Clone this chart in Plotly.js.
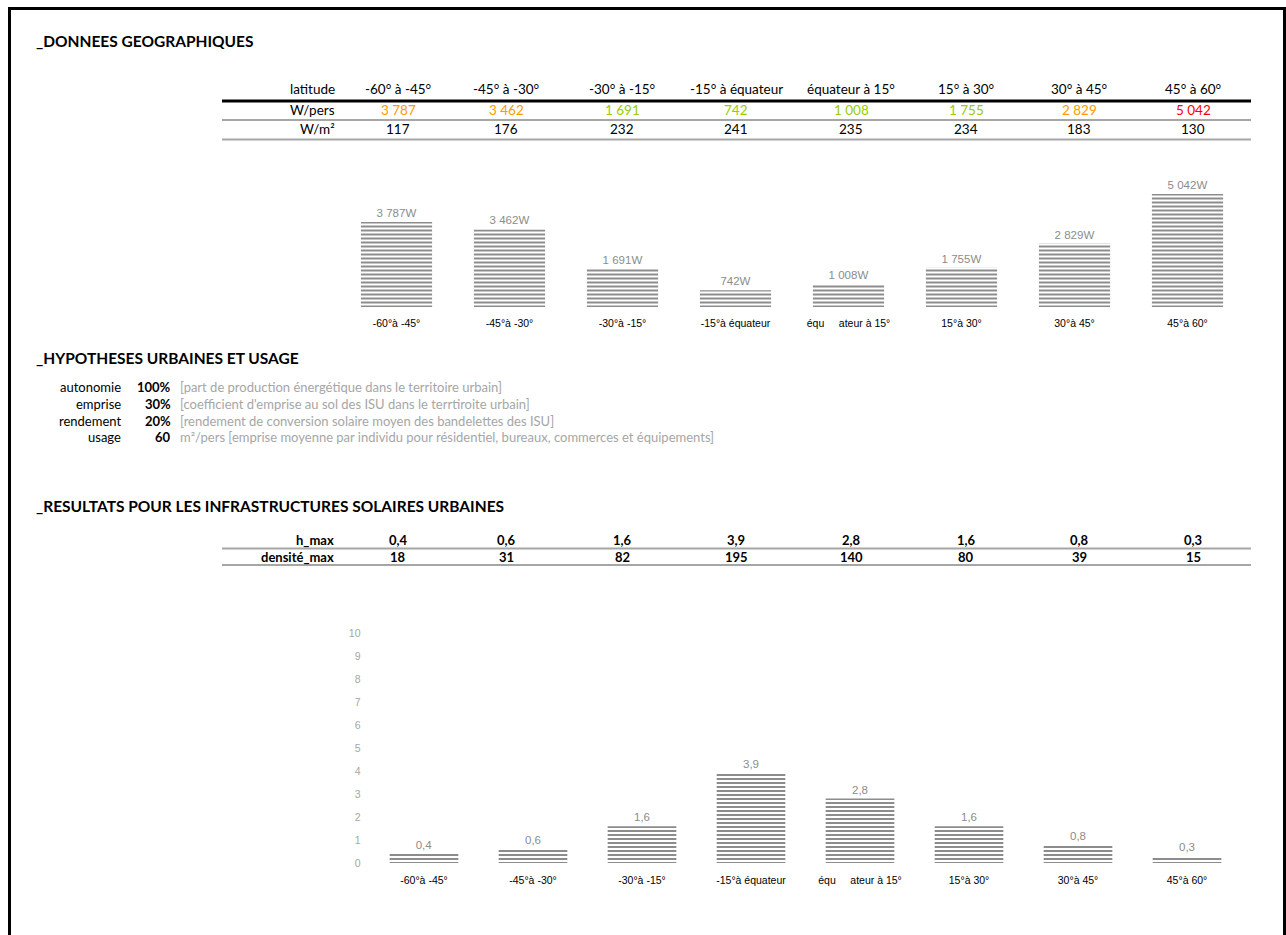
<!DOCTYPE html>
<html>
<head>
<meta charset="utf-8">
<script src="https://cdn.plot.ly/plotly-3.0.1.min.js"></script>
<style>
  html, body { margin: 0; padding: 0; background: #fff; }
  #chart { width: 1286px; height: 935px; }
</style>
</head>
<body>
<div id="chart"></div>
<script>
// ---------- DATA ----------
const latitudes = ['-60° à -45°', '-45° à -30°', '-30° à -15°', '-15° à équateur', 'équateur à 15°', '15° à 30°', '30° à 45°', '45° à 60°'];
const chartLabels = ['-60°à -45°', '-45°à -30°', '-30°à -15°', '-15°à équateur', 'équ\u00a0\u00a0\u00a0\u00a0\u00a0ateur à 15°', '15°à 30°', '30°à 45°', '45°à 60°'];
const wPers = [3787, 3462, 1691, 742, 1008, 1755, 2829, 5042];
const wPersLevel = ['orange', 'orange', 'green', 'green', 'green', 'green', 'orange', 'red'];
const wM2 = [117, 176, 232, 241, 235, 234, 183, 130];
const hMax = [0.4, 0.6, 1.6, 3.9, 2.8, 1.6, 0.8, 0.3];
const densiteMax = [18, 31, 82, 195, 140, 80, 39, 15];
const hypLabels = ['autonomie', 'emprise', 'rendement', 'usage'];
const hypValues = ['100%', '30%', '20%', '60'];
const hypNotes = [
  '[part de production énergétique dans le territoire urbain]',
  "[coefficient d'emprise au sol des ISU dans le terrtiroite urbain]",
  '[rendement de conversion solaire moyen des bandelettes des ISU]',
  'm²/pers [emprise moyenne par individu pour résidentiel, bureaux, commerces et équipements]'
];
const sectionTitles = ['_DONNEES GEOGRAPHIQUES', '_HYPOTHESES URBAINES ET USAGE', '_RESULTATS POUR LES INFRASTRUCTURES SOLAIRES URBAINES'];
const hTicks = [0, 1, 2, 3, 4, 5, 6, 7, 8, 9, 10];

// ---------- LAYOUT HELPERS ----------
const W = 1286, H = 935;
const fx = x => x / W;
const fy = y => 1 - y / H;
const colX = [398, 506, 622, 736, 851, 966, 1079, 1193];
const levelColor = { orange: '#FF9900', green: '#99CC00', red: '#FF0000' };
const FONT = 'Lato, "Open Sans", sans-serif';
const ARIAL = 'Arial, "Liberation Sans", sans-serif';

const thousands = n => String(n).replace(/\B(?=(\d{3})+(?!\d))/g, '\u00a0');
const dec1 = n => n.toFixed(1).replace('.', ',');

const annotations = [];
function txt(text, x, y, opts = {}) {
  annotations.push(Object.assign({
    text: text, x: fx(x), y: fy(y), xref: 'paper', yref: 'paper',
    xanchor: 'left', yanchor: 'middle', showarrow: false,
    font: { family: FONT, size: 13.5, color: '#000' }
  }, opts));
}
const shapes = [];
function hline(y, x0, x1, color, width) {
  shapes.push({ type: 'line', xref: 'paper', yref: 'paper', x0: fx(x0), x1: fx(x1), y0: fy(y), y1: fy(y), line: { color: color, width: width } });
}
function vline(x, y0, y1, color, width) {
  shapes.push({ type: 'line', xref: 'paper', yref: 'paper', x0: fx(x), x1: fx(x), y0: fy(y0), y1: fy(y1), line: { color: color, width: width } });
}

// frame
vline(9.5, 8, 940, '#000', 3);
vline(1284.5, 8, 940, '#000', 3);
hline(8.5, 8, 1286, '#000', 3);

// section titles
const bold = { family: FONT, size: 15.5, color: '#000' };
txt('<b>' + sectionTitles[0] + '</b>', 34, 41, { font: bold });
txt('<b>' + sectionTitles[1] + '</b>', 34, 358, { font: bold });
txt('<b>' + sectionTitles[2] + '</b>', 34, 506, { font: bold });

// table 1
txt('latitude', 337, 89, { xanchor: 'right' });
txt('W/pers', 337, 110, { xanchor: 'right' });
txt('W/m²', 337, 129, { xanchor: 'right' });
latitudes.forEach((l, i) => {
  txt(l, colX[i], 89, { xanchor: 'center' });
  txt(thousands(wPers[i]), colX[i], 110, { xanchor: 'center', font: { family: FONT, size: 13.5, color: levelColor[wPersLevel[i]] } });
  txt(String(wM2[i]), colX[i], 129, { xanchor: 'center' });
});
hline(101, 222, 1251, '#000', 3);
hline(120, 222, 1251, '#a6a6a6', 2);
hline(139.5, 222, 1251, '#a6a6a6', 2);

// hypotheses
const hypFont = { family: FONT, size: 13, color: '#000' };
hypLabels.forEach((l, i) => {
  const y = 387 + i * 16.8;
  txt(l, 123, y, { xanchor: 'right', font: hypFont });
  txt('<b>' + hypValues[i] + '</b>', 173, y, { xanchor: 'right', font: hypFont });
  txt(hypNotes[i], 178, y, { font: { family: FONT, size: 13, color: '#a6a6a6' } });
});

// results table
const bold13 = { family: FONT, size: 13, color: '#000' };
txt('<b>h_max</b>', 336, 540, { xanchor: 'right', font: bold13 });
txt('<b>densité_max</b>', 336, 557, { xanchor: 'right', font: bold13 });
hMax.forEach((v, i) => {
  txt('<b>' + dec1(v) + '</b>', colX[i], 540, { xanchor: 'center', font: bold13 });
  txt('<b>' + densiteMax[i] + '</b>', colX[i], 557, { xanchor: 'center', font: bold13 });
});
hline(548.5, 222, 1251, '#a6a6a6', 2);
hline(565, 222, 1251, '#a6a6a6', 2);

// ---------- CHARTS ----------
const pattern = { shape: '-', fgcolor: '#8c8c8c', bgcolor: '#ffffff', size: 4, solidity: 0.5 };

const trace1 = {
  type: 'bar', x: chartLabels, y: wPers, xaxis: 'x', yaxis: 'y',
  marker: { color: '#ffffff', pattern: pattern, line: { width: 0 } },
  texttemplate: '%{y:,.0f}W', textposition: 'outside', cliponaxis: false,
  textfont: { family: ARIAL, size: 11.5, color: '#8c8c8c' },
  hoverinfo: 'skip'
};
const trace2 = {
  type: 'bar', x: chartLabels, y: hMax, xaxis: 'x2', yaxis: 'y2',
  marker: { color: '#ffffff', pattern: pattern, line: { width: 0 } },
  texttemplate: '%{y:.1f}', textposition: 'outside', cliponaxis: false,
  textfont: { family: ARIAL, size: 11.5, color: '#8c8c8c' },
  hoverinfo: 'skip'
};

const layout = {
  width: W, height: H,
  margin: { l: 0, r: 0, t: 0, b: 0 },
  paper_bgcolor: '#fff', plot_bgcolor: 'rgba(0,0,0,0)',
  separators: ',\u00a0',
  showlegend: false,
  bargap: 0.37,
  font: { family: ARIAL },
  xaxis: {
    domain: [fx(340), fx(1244)], anchor: 'y',
    showgrid: false, zeroline: false, showline: false, ticks: '',
    tickfont: { family: ARIAL, size: 10.5, color: '#000' }, ticklabelstandoff: 8,
    fixedrange: true
  },
  yaxis: {
    domain: [fy(307), fy(172.5)], anchor: 'x', range: [0, 6000],
    showgrid: false, zeroline: false, showline: false, showticklabels: false, ticks: '',
    fixedrange: true
  },
  xaxis2: {
    domain: [fx(369.5), fx(1241.5)], anchor: 'y2',
    showgrid: false, zeroline: false, showline: false, ticks: '',
    tickfont: { family: ARIAL, size: 10.5, color: '#000' }, ticklabelstandoff: 9,
    fixedrange: true
  },
  yaxis2: {
    domain: [fy(863), fy(633)], anchor: 'x2', range: [0, 10],
    tickmode: 'array', tickvals: hTicks, ticktext: hTicks.map(String),
    showgrid: false, zeroline: false, showline: false, ticks: '',
    tickfont: { family: ARIAL, size: 10.5, color: '#a6a6a6' }, ticklabelstandoff: 8,
    fixedrange: true
  },
  annotations: annotations,
  shapes: shapes
};

Plotly.newPlot('chart', [trace1, trace2], layout, { displayModeBar: false, staticPlot: true });
</script>
</body>
</html>
